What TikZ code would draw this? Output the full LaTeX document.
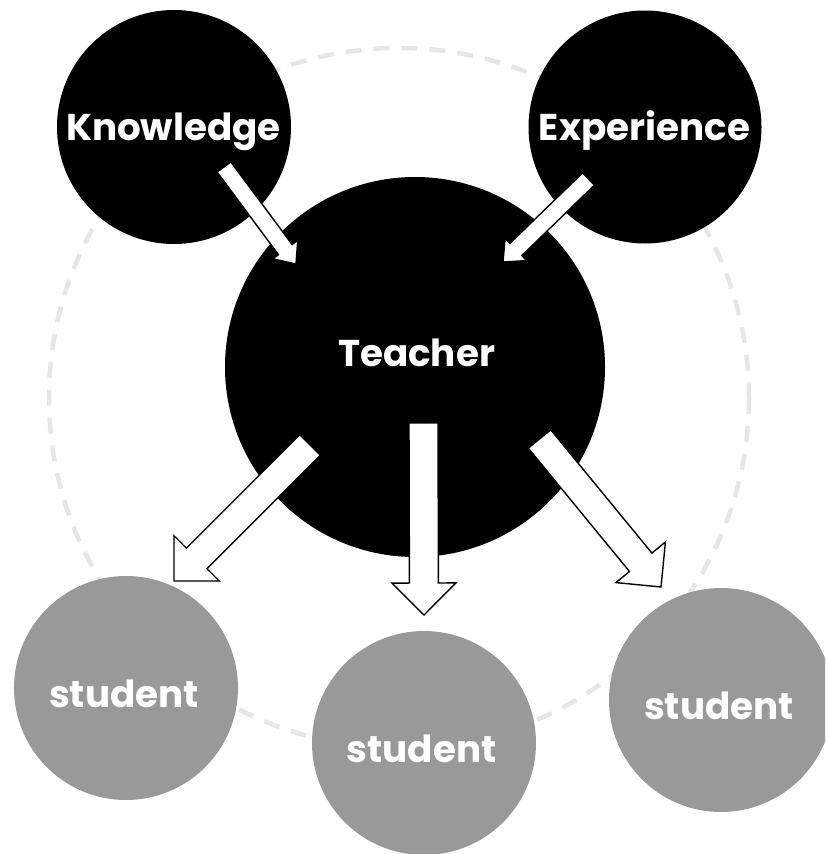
\documentclass[tikz,border=0pt]{standalone}
\usepackage{fontspec}
\setmainfont{Poppins}
\usetikzlibrary{calc}
\definecolor{stud}{HTML}{999999}
\definecolor{ring}{HTML}{E6E6E6}
\tikzset{
  bigdisc/.style={circle, fill=black, inner sep=0pt, minimum size=#1},
  studdisc/.style={circle, fill=stud, inner sep=0pt, minimum size=224pt},
  lbl/.style={text=white, font=\bfseries\fontsize{37.3}{41}\selectfont, anchor=base, inner sep=0pt},
  blockarr/.style={fill=white, draw=black, line width=1.4pt, line join=miter},
  ringline/.style={draw=ring, line width=4.5pt, dash pattern=on 16pt off 12pt}
}
\newcommand{\blockarrow}[6]{%
  \coordinate (#1h) at ($(#3)!#6!(#2)$);
  \filldraw[blockarr] ($(#2)!#4!90:(#3)$) -- ($(#1h)!#4!90:(#3)$) -- ($(#1h)!#5!90:(#3)$) -- (#3)
    -- ($(#1h)!#5!-90:(#3)$) -- ($(#1h)!#4!-90:(#3)$) -- ($(#2)!#4!-90:(#3)$) -- cycle;
}
\begin{document}
\begin{tikzpicture}[x=1pt,y=-1pt]
\useasboundingbox (0,0) rectangle (825,854);
\clip (0,0) rectangle (825,854);
% dashed ring
\draw[ringline] (399,398) circle[radius=350];
% discs
\node[bigdisc=234pt] (know) at (174,127) {};
\node[bigdisc=233pt] (exp) at (645,127) {};
\node[bigdisc=380pt] (teach) at (415,367) {};
\node[studdisc] (s1) at (126,688) {};
\node[studdisc] (s2) at (424,743) {};
\node[studdisc] (s3) at (721,700) {};
% labels
\node[lbl] (tknow) at (173.5,140.5) {Knowledge};
\node[lbl] (texp) at (644.5,140.5) {Experience};
\node[lbl] (tteach) at (416.5,366) {Teacher};
\node[lbl] (ts1) at (124,707) {student};
\node[lbl] (ts2) at (421.5,762.5) {student};
\node[lbl] (ts3) at (719,719) {student};
% arrow end points
\coordinate (ka) at (224,167);   \coordinate (kb) at (296,264);
\coordinate (ea) at (588.5,179); \coordinate (eb) at (503,262);
\coordinate (la) at (310,445);   \coordinate (lb) at (174,581);
\coordinate (ma) at (423.5,423); \coordinate (mb) at (424,615);
\coordinate (ra) at (539.5,439); \coordinate (rb) at (661,587);
% arrows
\blockarrow{k}{ka}{kb}{8.5pt}{15.5pt}{18pt}
\blockarrow{e}{ea}{eb}{8.5pt}{15.5pt}{18pt}
\blockarrow{l}{la}{lb}{14.5pt}{32pt}{32pt}
\blockarrow{m}{ma}{mb}{14.5pt}{32pt}{32pt}
\blockarrow{r}{ra}{rb}{14.5pt}{32pt}{32pt}
\end{tikzpicture}
\end{document}
